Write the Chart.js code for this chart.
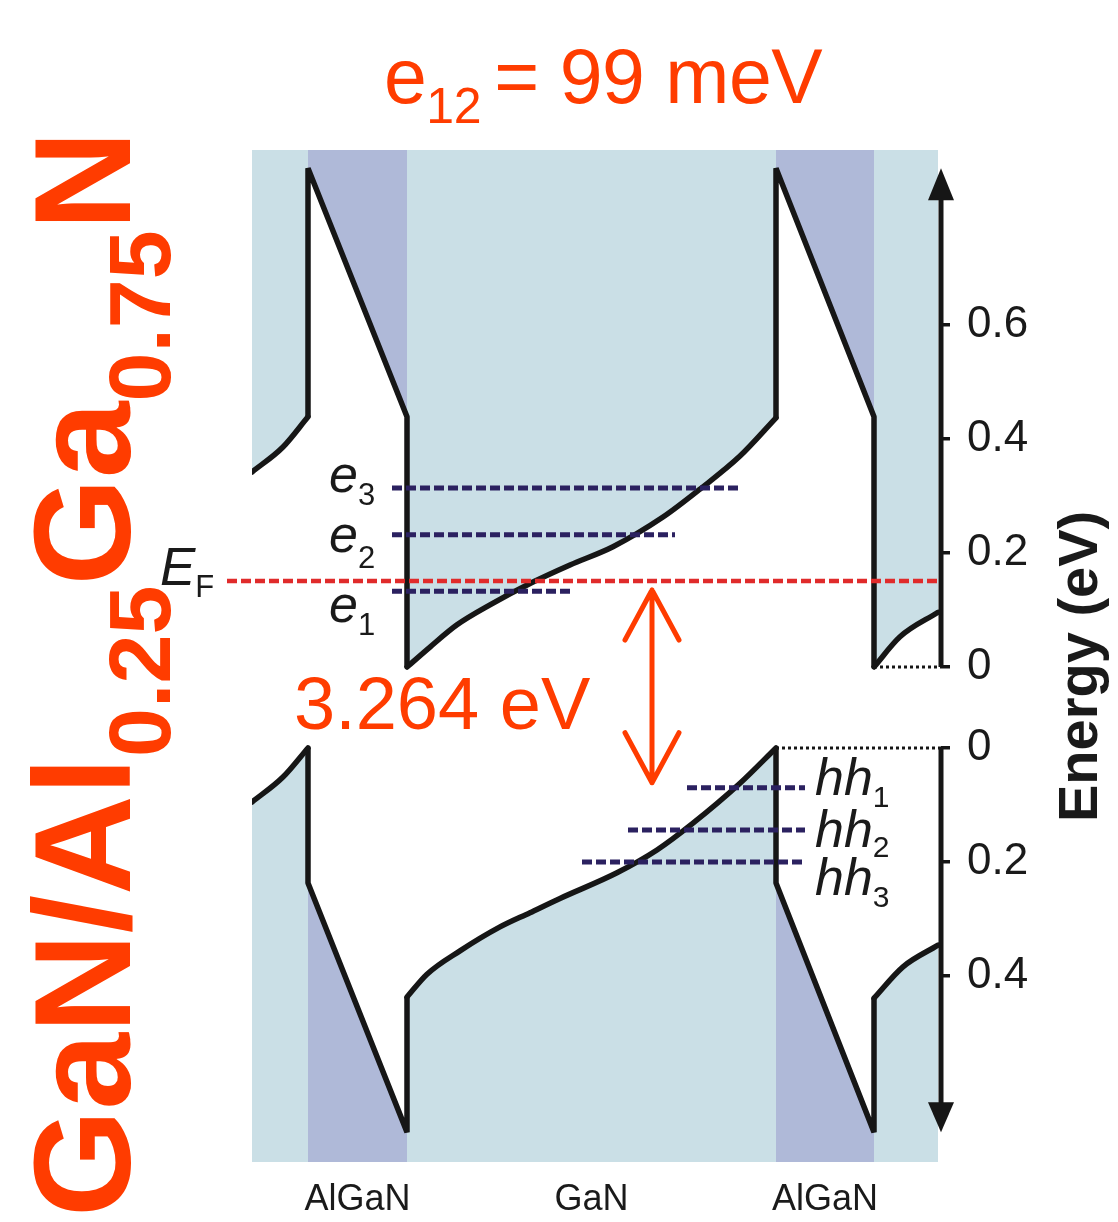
<!DOCTYPE html>
<html>
<head>
<meta charset="utf-8">
<script src="https://cdn.jsdelivr.net/npm/chart.js@4.4.1/dist/chart.umd.min.js"></script>
<style>
  body { margin: 0; background: #fff; }
  #wrap { position: relative; width: 1118px; height: 1222px; overflow: hidden; }
  #chart { position: absolute; left: 0; top: 0; }
  .lbl { position: absolute; line-height: 1; white-space: nowrap; font-family: 'Liberation Sans', Arial, sans-serif; color: #1a1a1a; }
  .sub { position: relative; font-style: normal; }
  .rot { transform-origin: 0 0; transform: rotate(-90deg); font-weight: bold; }
  .red { color: #ff3c00; }
</style>
</head>
<body>
<div id="wrap"><canvas id="chart" width="1118" height="1222"></canvas></div>
<script>
// band diagram: position in nm-like units, energies in eV

// layers
const layerNames = ['AlGaN', 'GaN', 'AlGaN'];
const layerEdges = [0, 0.56, 1.55, 5.24, 6.22, 6.86];
const layerCenters = [1.055, 3.395, 5.73];
const xMax = 6.89;

// conduction band (eV)
const cbLeftX = [0, 0.31, 0.56];
const cbLeftE = [0.342, 0.386, 0.439];
const cbBarrierE = [0.875, 0.439];   // barrier edge, left side -> right side
const cbWellX = [1.55, 1.78, 2.05, 2.38, 2.81, 3.18, 3.61, 4.11, 4.48, 4.88, 5.24];
const cbWellE = [0, 0.035, 0.074, 0.109, 0.149, 0.179, 0.211, 0.263, 0.312, 0.370, 0.437];
const cbRightX = [6.22, 6.48, 6.86];
const cbRightE = [0, 0.053, 0.096];

// valence band (hole energy, eV, counted downwards)
const vbLeftX = [0, 0.31, 0.56];
const vbLeftE = [0.095, 0.051, 0];
const vbBarrierE = [0.237, 0.674];
const vbWellX = [1.55, 1.75, 2.08, 2.48, 2.78, 3.08, 3.65, 4.05, 4.41, 4.88, 5.24];
const vbWellE = [0.437, 0.397, 0.356, 0.314, 0.289, 0.264, 0.219, 0.179, 0.132, 0.062, 0];
const vbRightX = [6.22, 6.51, 6.86];
const vbRightE = [0.439, 0.384, 0.346];

// confined levels
const elecE = [0.133, 0.232, 0.314];
const elecStart = [1.40, 1.40, 1.40];
const elecEnd = [3.18, 4.23, 4.86];
const holeE = [0.070, 0.144, 0.200];
const holeStart = [4.35, 3.76, 3.30];
const holeEnd = [5.53, 5.53, 5.53];
const fermiE = 0.151;
const fermiX = [-0.25, 6.87];

// energy axis
const cbTicks = [0, 0.2, 0.4, 0.6];
const vbTicks = [0, 0.2, 0.4];
const vbGap = 0.142;          // drawn space between the two zeros
const gapArrowX = 4.0;
const gapArrowE = [0.135, 0.061]; // top (electron), bottom (hole)

const BLUE = '#cadfe6', LAV = '#afb9d8', INK = '#161616';
const NAVY = '#2b2160', FERMI = '#e02b2b', ORANGE = '#ff3c00';
const FONT = "'Liberation Sans', Arial, sans-serif";

const vb = e => -(vbGap + e);
const pts = (xs, ys, f = v => v) => xs.map((x, i) => ({ x, y: f(ys[i]) }));

function area(data, color, fill, smooth) {
  return { data, fill, backgroundColor: color, borderColor: 'transparent', borderWidth: 0, order: 5,
    cubicInterpolationMode: smooth ? 'monotone' : 'default' };
}
function stroke(data, color, width, dash, order) {
  return { data, fill: false, borderColor: color, borderWidth: width, borderDash: dash,
    borderJoinStyle: 'bevel', borderCapStyle: 'butt', order };
}
function curve(data) {
  const d = stroke(data, INK, 5.5, [], 3);
  d.cubicInterpolationMode = 'monotone';
  d.borderCapStyle = 'round';
  return d;
}
// vertical + slanted edges of one barrier
function barrier(x0, x1, fromY, topY, botY, toY) {
  return stroke([{ x: x0, y: fromY }, { x: x0, y: topY }, { x: x1, y: botY }, { x: x1, y: toY }], INK, 5.5, [], 3);
}

const last = a => a[a.length - 1];

const datasets = [
  // shading above the conduction band
  area(pts(cbLeftX, cbLeftE), BLUE, 'end', true),
  area([{ x: layerEdges[1], y: cbBarrierE[0] }, { x: layerEdges[2], y: cbBarrierE[1] }], LAV, 'end'),
  area(pts(cbWellX, cbWellE), BLUE, 'end', true),
  area([{ x: layerEdges[3], y: cbBarrierE[0] }, { x: layerEdges[4], y: cbBarrierE[1] }], LAV, 'end'),
  area(pts(cbRightX, cbRightE), BLUE, 'end', true),
  // shading below the valence band
  area(pts(vbLeftX, vbLeftE, vb), BLUE, 'start', true),
  area([{ x: layerEdges[1], y: vb(vbBarrierE[0]) }, { x: layerEdges[2], y: vb(vbBarrierE[1]) }], LAV, 'start'),
  area(pts(vbWellX, vbWellE, vb), BLUE, 'start', true),
  area([{ x: layerEdges[3], y: vb(vbBarrierE[0]) }, { x: layerEdges[4], y: vb(vbBarrierE[1]) }], LAV, 'start'),
  area(pts(vbRightX, vbRightE, vb), BLUE, 'start', true),
  // conduction band edge
  curve(pts(cbLeftX, cbLeftE)),
  barrier(layerEdges[1], layerEdges[2], last(cbLeftE), cbBarrierE[0], cbBarrierE[1], cbWellE[0]),
  curve(pts(cbWellX, cbWellE)),
  barrier(layerEdges[3], layerEdges[4], last(cbWellE), cbBarrierE[0], cbBarrierE[1], cbRightE[0]),
  curve(pts(cbRightX, cbRightE)),
  // valence band edge
  curve(pts(vbLeftX, vbLeftE, vb)),
  barrier(layerEdges[1], layerEdges[2], vb(last(vbLeftE)), vb(vbBarrierE[0]), vb(vbBarrierE[1]), vb(vbWellE[0])),
  curve(pts(vbWellX, vbWellE, vb)),
  barrier(layerEdges[3], layerEdges[4], vb(last(vbWellE)), vb(vbBarrierE[0]), vb(vbBarrierE[1]), vb(vbRightE[0])),
  curve(pts(vbRightX, vbRightE, vb)),
  // zero references
  stroke([{ x: cbRightX[0], y: 0 }, { x: xMax, y: 0 }], INK, 3, [3, 3], 2),
  stroke([{ x: last(vbWellX), y: vb(0) }, { x: xMax, y: vb(0) }], INK, 3, [3, 3], 2),
];
elecE.forEach((e, i) => {
  datasets.push(stroke([{ x: elecStart[i], y: e }, { x: elecEnd[i], y: e }], NAVY, 5, [10, 4], 1));
});
holeE.forEach((e, i) => {
  datasets.push(stroke([{ x: holeStart[i], y: vb(e) }, { x: holeEnd[i], y: vb(e) }], NAVY, 5, [10, 4], 1));
});
const fermi = stroke([{ x: fermiX[0], y: fermiE }, { x: fermiX[1], y: fermiE }], FERMI, 4.5, [10, 4], 1);
fermi.clip = false;
datasets.push(fermi);

const yTickValues = [...vbTicks.map(vb), ...cbTicks];
const yTickLabels = [...vbTicks, ...cbTicks].map(v => v === 0 ? '0' : v.toFixed(1));

function arrowHead(ctx, x, tip, dir, len, half) {
  ctx.beginPath();
  ctx.moveTo(x, tip);
  ctx.lineTo(x - half, tip - dir * len);
  ctx.lineTo(x + half, tip - dir * len);
  ctx.closePath();
  ctx.fill();
}

const extras = {
  id: 'extras',
  afterDatasetsDraw(chart) {
    const { ctx, chartArea, scales: { x, y } } = chart;
    const ax = chartArea.right;
    ctx.save();
    ctx.strokeStyle = INK;
    ctx.fillStyle = INK;
    ctx.lineWidth = 5;
    const upZero = y.getPixelForValue(0);
    const upTip = y.getPixelForValue(cbBarrierE[0]);
    const dnZero = y.getPixelForValue(vb(0));
    const dnTip = y.getPixelForValue(vb(vbBarrierE[1]));
    ctx.beginPath();
    ctx.moveTo(ax, upZero); ctx.lineTo(ax, upTip + 28);
    ctx.moveTo(ax, dnZero); ctx.lineTo(ax, dnTip - 26);
    ctx.stroke();
    arrowHead(ctx, ax, upTip, -1, 32, 13);
    arrowHead(ctx, ax, dnTip, 1, 30, 13);

    // transition arrow e1 <-> hh1
    const gx = x.getPixelForValue(gapArrowX);
    const gt = y.getPixelForValue(gapArrowE[0]);
    const gb = y.getPixelForValue(vb(gapArrowE[1]));
    ctx.strokeStyle = ORANGE;
    ctx.lineCap = 'round';
    ctx.lineJoin = 'round';
    ctx.beginPath();
    ctx.moveTo(gx, gt); ctx.lineTo(gx, gb);
    ctx.moveTo(gx - 27, gt + 50); ctx.lineTo(gx, gt); ctx.lineTo(gx + 27, gt + 50);
    ctx.moveTo(gx - 27, gb - 50); ctx.lineTo(gx, gb); ctx.lineTo(gx + 27, gb - 50);
    ctx.stroke();
    ctx.restore();
  }
};

new Chart(document.getElementById('chart'), {
  type: 'line',
  data: { datasets },
  options: {
    responsive: false,
    animation: false,
    events: [],
    layout: { padding: { top: 150, left: 252, right: 0, bottom: 0 } },
    elements: { point: { radius: 0, hitRadius: 0 }, line: { tension: 0 } },
    plugins: { legend: { display: false }, tooltip: { enabled: false } },
    scales: {
      x: {
        type: 'linear', min: 0, max: xMax,
        grid: { display: false, drawTicks: false },
        border: { display: false },
        afterBuildTicks: s => { s.ticks = layerCenters.map(value => ({ value })); },
        afterFit: s => { s.height = 60; },
        ticks: {
          autoSkip: false, maxRotation: 0, minRotation: 0, padding: 16,
          color: '#1a1a1a', font: { family: FONT, size: 36 },
          callback: (v, i) => layerNames[i]
        }
      },
      y: {
        type: 'linear', position: 'right', min: -0.8684, max: 0.907,
        grid: { drawOnChartArea: false, drawTicks: true, tickLength: 9, color: INK, lineWidth: 3.5 },
        border: { display: false },
        afterBuildTicks: s => { s.ticks = yTickValues.map(value => ({ value })); },
        afterFit: s => { s.width = 177; },
        ticks: {
          autoSkip: false, padding: 17,
          color: '#1a1a1a', font: { family: FONT, size: 44 },
          callback: (v, i) => yTickLabels[i]
        }
      }
    }
  },
  plugins: [extras]
});

// text on top of the chart
const wrap = document.getElementById('wrap');
function label(html, left, baseline, size, cls) {
  const d = document.createElement('div');
  d.className = 'lbl' + (cls ? ' ' + cls : '');
  d.innerHTML = html;
  d.style.left = left + 'px';
  d.style.top = (baseline - 0.8465 * size) + 'px';
  d.style.fontSize = size + 'px';
  wrap.appendChild(d);
  return d;
}
function sub(text, size, drop) {
  return `<span class="sub" style="font-size:${size}px;top:${drop}px">${text}</span>`;
}

// rotated material title
const big = document.createElement('div');
big.className = 'lbl rot red';
big.style.cssText = 'left:13px;top:1217px;font-size:138px;';
big.innerHTML = 'GaN/Al' + sub('0.25', 88, 40) + 'Ga' + sub('0.75', 88, 40) + 'N';
wrap.appendChild(big);

const yTitle = document.createElement('div');
yTitle.className = 'lbl rot';
yTitle.style.cssText = 'left:1050px;top:822px;font-size:56px;';
yTitle.textContent = 'Energy (eV)';
wrap.appendChild(yTitle);

label('e' + sub('12 ', 50, 20) + '= 99 meV', 384, 103, 77, 'red').style.letterSpacing = '-0.5px';
label('3.264 eV', 294, 730, 74, 'red');

label('<i>E</i>' + sub('F', 31, 12), 160, 585, 53);
const elecNames = ['1', '2', '3'];
const elecBase = [622, 552, 492];
const elecDrop = [13, 16, 13];
elecNames.forEach((n, i) => label('<i>e</i>' + sub(n, 31, elecDrop[i]), 329, elecBase[i], 52));
const holeBase = [795, 847, 895];
const holeDrop = [12, 10, 12];
elecNames.forEach((n, i) => label('<i>hh</i>' + sub(n, 30, holeDrop[i]), 815, holeBase[i], 52));
</script>
</body>
</html>
